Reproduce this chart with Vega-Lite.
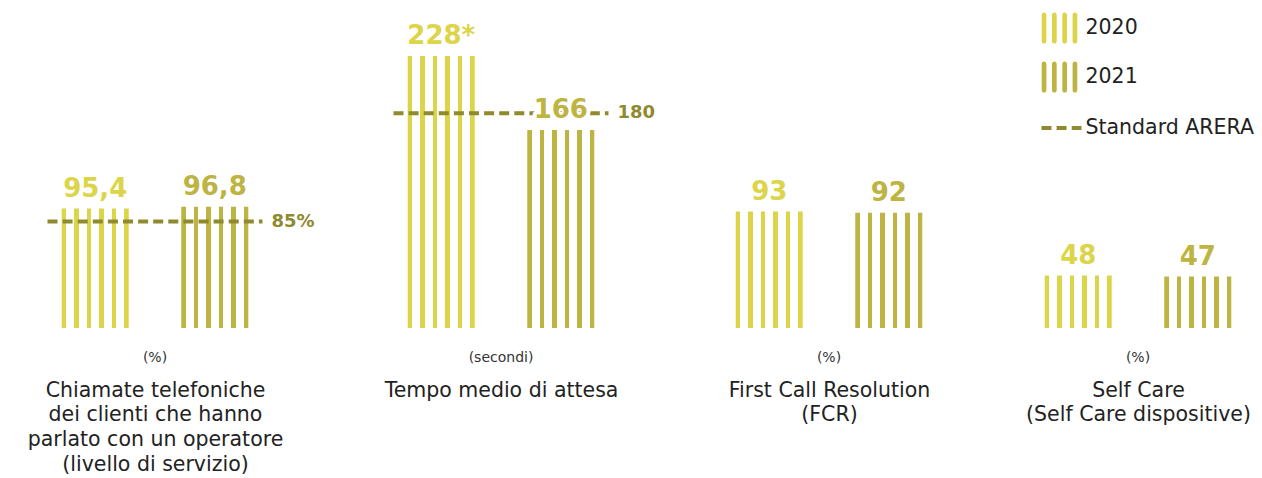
{
  "$schema": "https://vega.github.io/schema/vega-lite/v6.json",
  "padding": {"left": 22, "top": 0, "right": 0, "bottom": 0},
  "background": "white",
  "bounds": "flush",
  "spacing": 80,
  "datasets": {
    "bars": [
      {"group": "chiamate", "unit": "(%)", "year": "2020", "value": 95.4, "label": "95,4"},
      {"group": "chiamate", "unit": "(%)", "year": "2021", "value": 96.8, "label": "96,8"},
      {"group": "attesa", "unit": "(secondi)", "year": "2020", "value": 228, "label": "228*"},
      {"group": "attesa", "unit": "(secondi)", "year": "2021", "value": 166, "label": "166"},
      {"group": "fcr", "unit": "(%)", "year": "2020", "value": 93, "label": "93"},
      {"group": "fcr", "unit": "(%)", "year": "2021", "value": 92, "label": "92"},
      {"group": "selfcare", "unit": "(%)", "year": "2020", "value": 48, "label": "48"},
      {"group": "selfcare", "unit": "(%)", "year": "2021", "value": 47, "label": "47"}
    ],
    "standards": [
      {"group": "chiamate", "unit": "(%)", "standard": 85, "label": "85%"},
      {"group": "attesa", "unit": "(secondi)", "standard": 180, "label": "180"}
    ]
  },
  "resolve": {"scale": {"color": "shared", "strokeDash": "shared", "xOffset": "shared"}, "legend": {"color": "shared", "strokeDash": "shared"}},
  "hconcat": [
    {
      "width": 266,
      "height": 328,
      "layer": [
        {
          "data": {"name": "bars"},
          "transform": [{"filter": "datum.group === 'chiamate' && datum.year === '2020'"}],
          "mark": {"type": "bar", "fill": {"gradient": "linear", "x1": 0, "y1": 0, "x2": 1, "y2": 0, "stops": [
            {"offset": 0, "color": "#dcd54a"}, {"offset": 0.0672, "color": "#dcd54a"}, {"offset": 0.0672, "color": "#ffffff"}, {"offset": 0.1866, "color": "#ffffff"},
            {"offset": 0.1866, "color": "#dcd54a"}, {"offset": 0.2537, "color": "#dcd54a"}, {"offset": 0.2537, "color": "#ffffff"}, {"offset": 0.3731, "color": "#ffffff"},
            {"offset": 0.3731, "color": "#dcd54a"}, {"offset": 0.4403, "color": "#dcd54a"}, {"offset": 0.4403, "color": "#ffffff"}, {"offset": 0.5597, "color": "#ffffff"},
            {"offset": 0.5597, "color": "#dcd54a"}, {"offset": 0.6269, "color": "#dcd54a"}, {"offset": 0.6269, "color": "#ffffff"}, {"offset": 0.7463, "color": "#ffffff"},
            {"offset": 0.7463, "color": "#dcd54a"}, {"offset": 0.8134, "color": "#dcd54a"}, {"offset": 0.8134, "color": "#ffffff"}, {"offset": 0.9328, "color": "#ffffff"},
            {"offset": 0.9328, "color": "#dcd54a"}, {"offset": 1, "color": "#dcd54a"}]}},
          "encoding": {
            "x": {"field": "unit", "type": "nominal", "scale": {"paddingInner": 0, "paddingOuter": 0.1186}, "axis": {"title": ["Chiamate telefoniche", "dei clienti che hanno", "parlato con un operatore", "(livello di servizio)"]}},
            "xOffset": {"field": "year", "type": "nominal", "scale": {"domain": ["2020", "2021"], "paddingInner": 0.4393, "paddingOuter": 0.119}},
            "y": {"field": "value", "type": "quantitative", "scale": {"domain": [0, 262]}, "axis": null}
          }
        },
        {
          "data": {"name": "bars"},
          "transform": [{"filter": "datum.group === 'chiamate' && datum.year === '2021'"}],
          "mark": {"type": "bar", "fill": {"gradient": "linear", "x1": 0, "y1": 0, "x2": 1, "y2": 0, "stops": [
            {"offset": 0, "color": "#bdb442"}, {"offset": 0.0672, "color": "#bdb442"}, {"offset": 0.0672, "color": "#ffffff"}, {"offset": 0.1866, "color": "#ffffff"},
            {"offset": 0.1866, "color": "#bdb442"}, {"offset": 0.2537, "color": "#bdb442"}, {"offset": 0.2537, "color": "#ffffff"}, {"offset": 0.3731, "color": "#ffffff"},
            {"offset": 0.3731, "color": "#bdb442"}, {"offset": 0.4403, "color": "#bdb442"}, {"offset": 0.4403, "color": "#ffffff"}, {"offset": 0.5597, "color": "#ffffff"},
            {"offset": 0.5597, "color": "#bdb442"}, {"offset": 0.6269, "color": "#bdb442"}, {"offset": 0.6269, "color": "#ffffff"}, {"offset": 0.7463, "color": "#ffffff"},
            {"offset": 0.7463, "color": "#bdb442"}, {"offset": 0.8134, "color": "#bdb442"}, {"offset": 0.8134, "color": "#ffffff"}, {"offset": 0.9328, "color": "#ffffff"},
            {"offset": 0.9328, "color": "#bdb442"}, {"offset": 1, "color": "#bdb442"}]}},
          "encoding": {
            "x": {"field": "unit", "type": "nominal", "scale": {"paddingInner": 0, "paddingOuter": 0.1186}, "axis": {"title": ["Chiamate telefoniche", "dei clienti che hanno", "parlato con un operatore", "(livello di servizio)"]}},
            "xOffset": {"field": "year", "type": "nominal", "scale": {"domain": ["2020", "2021"], "paddingInner": 0.4393, "paddingOuter": 0.119}},
            "y": {"field": "value", "type": "quantitative", "scale": {"domain": [0, 262]}, "axis": null}
          }
        },
        {
          "data": {"name": "standards"},
          "transform": [{"filter": "datum.group === 'chiamate'"}],
          "mark": {"type": "rule", "strokeWidth": 4, "color": "#8f8a2e"},
          "encoding": {
            "x": {"field": "unit", "type": "nominal", "bandPosition": 0, "scale": {"paddingInner": 0, "paddingOuter": 0.1186}, "axis": {"title": ["Chiamate telefoniche", "dei clienti che hanno", "parlato con un operatore", "(livello di servizio)"]}},
            "x2": {"field": "unit", "bandPosition": 1},
            "y": {"field": "standard", "type": "quantitative", "scale": {"domain": [0, 262]}, "axis": null},
            "strokeDash": {
              "datum": "Standard ARERA", "type": "nominal",
              "scale": {"domain": ["Standard ARERA"], "range": [[10, 5.1]]},
              "legend": {"orient": "none", "legendX": 1017.5, "legendY": 106, "title": null, "padding": 0,
                "labelFontSize": 20.5, "labelFont": "DejaVu Sans", "labelColor": "#222222", "labelOffset": 2, "labelLimit": 300,
                "symbolSize": 1600, "symbolType": "stroke", "symbolStrokeWidth": 4, "symbolStrokeColor": "#8f8a2e"}
            }
          }
        },
        {
          "data": {"name": "standards"},
          "transform": [{"filter": "datum.group === 'chiamate'"}],
          "mark": {"type": "text", "align": "left", "baseline": "middle", "dx": 9, "fontSize": 18, "fontWeight": "bold", "color": "#8f8a2e"},
          "encoding": {
            "x": {"field": "unit", "type": "nominal", "bandPosition": 1, "scale": {"paddingInner": 0, "paddingOuter": 0.1186}, "axis": {"title": ["Chiamate telefoniche", "dei clienti che hanno", "parlato con un operatore", "(livello di servizio)"]}},
            "y": {"field": "standard", "type": "quantitative", "scale": {"domain": [0, 262]}, "axis": null},
            "text": {"field": "label"}
          }
        },
        {
          "data": {"name": "bars"},
          "transform": [{"filter": "datum.group === 'chiamate'"}],
          "encoding": {
            "x": {"field": "unit", "type": "nominal", "scale": {"paddingInner": 0, "paddingOuter": 0.1186}, "axis": {"title": ["Chiamate telefoniche", "dei clienti che hanno", "parlato con un operatore", "(livello di servizio)"]}},
            "xOffset": {"field": "year", "type": "nominal", "scale": {"domain": ["2020", "2021"], "paddingInner": 0.4393, "paddingOuter": 0.119}},
            "y": {"field": "value", "type": "quantitative", "scale": {"domain": [0, 262]}, "axis": null},
            "text": {"field": "label"}
          },
          "layer": [
            {"mark": {"type": "text", "baseline": "alphabetic", "dy": -12, "fontSize": 26, "fontWeight": "bold", "fill": "white", "stroke": "white", "strokeWidth": 8, "strokeJoin": "round"}},
            {
              "mark": {"type": "text", "baseline": "alphabetic", "dy": -12, "fontSize": 26, "fontWeight": "bold"},
              "encoding": {
                "color": {
                  "field": "year", "type": "nominal",
                  "scale": {"domain": ["2020", "2021"], "range": ["#dcd54a", "#bdb442"]},
                  "legend": {
                    "orient": "none", "legendX": 1019.5, "legendY": 10, "title": null, "padding": 0,
                    "labelFontSize": 20.5, "labelFont": "DejaVu Sans", "labelColor": "#222222", "labelOffset": 8, "labelLimit": 300,
                    "rowPadding": 15, "symbolSize": 1296, "symbolStrokeWidth": 0, "symbolOpacity": 1,
                    "symbolType": "M-0.988,-0.731A0.13,0.13 0 0 1 -0.728,-0.731L-0.728,0.731A0.13,0.13 0 0 1 -0.988,0.731ZM-0.416,-0.731A0.13,0.13 0 0 1 -0.156,-0.731L-0.156,0.731A0.13,0.13 0 0 1 -0.416,0.731ZM0.156,-0.731A0.13,0.13 0 0 1 0.416,-0.731L0.416,0.731A0.13,0.13 0 0 1 0.156,0.731ZM0.728,-0.731A0.13,0.13 0 0 1 0.988,-0.731L0.988,0.731A0.13,0.13 0 0 1 0.728,0.731Z"
                  }
                }
              }
            }
          ]
        }
      ]
    },
    {
      "width": 266,
      "height": 328,
      "layer": [
        {
          "data": {"name": "bars"},
          "transform": [{"filter": "datum.group === 'attesa' && datum.year === '2020'"}],
          "mark": {"type": "bar", "fill": {"gradient": "linear", "x1": 0, "y1": 0, "x2": 1, "y2": 0, "stops": [
            {"offset": 0, "color": "#dcd54a"}, {"offset": 0.0672, "color": "#dcd54a"}, {"offset": 0.0672, "color": "#ffffff"}, {"offset": 0.1866, "color": "#ffffff"},
            {"offset": 0.1866, "color": "#dcd54a"}, {"offset": 0.2537, "color": "#dcd54a"}, {"offset": 0.2537, "color": "#ffffff"}, {"offset": 0.3731, "color": "#ffffff"},
            {"offset": 0.3731, "color": "#dcd54a"}, {"offset": 0.4403, "color": "#dcd54a"}, {"offset": 0.4403, "color": "#ffffff"}, {"offset": 0.5597, "color": "#ffffff"},
            {"offset": 0.5597, "color": "#dcd54a"}, {"offset": 0.6269, "color": "#dcd54a"}, {"offset": 0.6269, "color": "#ffffff"}, {"offset": 0.7463, "color": "#ffffff"},
            {"offset": 0.7463, "color": "#dcd54a"}, {"offset": 0.8134, "color": "#dcd54a"}, {"offset": 0.8134, "color": "#ffffff"}, {"offset": 0.9328, "color": "#ffffff"},
            {"offset": 0.9328, "color": "#dcd54a"}, {"offset": 1, "color": "#dcd54a"}]}},
          "encoding": {
            "x": {"field": "unit", "type": "nominal", "scale": {"paddingInner": 0, "paddingOuter": 0.1186}, "axis": {"title": "Tempo medio di attesa"}},
            "xOffset": {"field": "year", "type": "nominal", "scale": {"domain": ["2020", "2021"], "paddingInner": 0.4393, "paddingOuter": 0.119}},
            "y": {"field": "value", "type": "quantitative", "scale": {"domain": [0, 275]}, "axis": null}
          }
        },
        {
          "data": {"name": "bars"},
          "transform": [{"filter": "datum.group === 'attesa' && datum.year === '2021'"}],
          "mark": {"type": "bar", "fill": {"gradient": "linear", "x1": 0, "y1": 0, "x2": 1, "y2": 0, "stops": [
            {"offset": 0, "color": "#bdb442"}, {"offset": 0.0672, "color": "#bdb442"}, {"offset": 0.0672, "color": "#ffffff"}, {"offset": 0.1866, "color": "#ffffff"},
            {"offset": 0.1866, "color": "#bdb442"}, {"offset": 0.2537, "color": "#bdb442"}, {"offset": 0.2537, "color": "#ffffff"}, {"offset": 0.3731, "color": "#ffffff"},
            {"offset": 0.3731, "color": "#bdb442"}, {"offset": 0.4403, "color": "#bdb442"}, {"offset": 0.4403, "color": "#ffffff"}, {"offset": 0.5597, "color": "#ffffff"},
            {"offset": 0.5597, "color": "#bdb442"}, {"offset": 0.6269, "color": "#bdb442"}, {"offset": 0.6269, "color": "#ffffff"}, {"offset": 0.7463, "color": "#ffffff"},
            {"offset": 0.7463, "color": "#bdb442"}, {"offset": 0.8134, "color": "#bdb442"}, {"offset": 0.8134, "color": "#ffffff"}, {"offset": 0.9328, "color": "#ffffff"},
            {"offset": 0.9328, "color": "#bdb442"}, {"offset": 1, "color": "#bdb442"}]}},
          "encoding": {
            "x": {"field": "unit", "type": "nominal", "scale": {"paddingInner": 0, "paddingOuter": 0.1186}, "axis": {"title": "Tempo medio di attesa"}},
            "xOffset": {"field": "year", "type": "nominal", "scale": {"domain": ["2020", "2021"], "paddingInner": 0.4393, "paddingOuter": 0.119}},
            "y": {"field": "value", "type": "quantitative", "scale": {"domain": [0, 275]}, "axis": null}
          }
        },
        {
          "data": {"name": "standards"},
          "transform": [{"filter": "datum.group === 'attesa'"}],
          "mark": {"type": "rule", "strokeWidth": 4, "color": "#8f8a2e"},
          "encoding": {
            "x": {"field": "unit", "type": "nominal", "bandPosition": 0, "scale": {"paddingInner": 0, "paddingOuter": 0.1186}, "axis": {"title": "Tempo medio di attesa"}},
            "x2": {"field": "unit", "bandPosition": 1},
            "y": {"field": "standard", "type": "quantitative", "scale": {"domain": [0, 275]}, "axis": null},
            "strokeDash": {"datum": "Standard ARERA", "type": "nominal", "scale": {"domain": ["Standard ARERA"], "range": [[10, 5.1]]}}
          }
        },
        {
          "data": {"name": "standards"},
          "transform": [{"filter": "datum.group === 'attesa'"}],
          "mark": {"type": "text", "align": "left", "baseline": "middle", "dx": 9, "fontSize": 18, "fontWeight": "bold", "color": "#8f8a2e"},
          "encoding": {
            "x": {"field": "unit", "type": "nominal", "bandPosition": 1, "scale": {"paddingInner": 0, "paddingOuter": 0.1186}, "axis": {"title": "Tempo medio di attesa"}},
            "y": {"field": "standard", "type": "quantitative", "scale": {"domain": [0, 275]}, "axis": null},
            "text": {"field": "label"}
          }
        },
        {
          "data": {"name": "bars"},
          "transform": [{"filter": "datum.group === 'attesa'"}],
          "encoding": {
            "x": {"field": "unit", "type": "nominal", "scale": {"paddingInner": 0, "paddingOuter": 0.1186}, "axis": {"title": "Tempo medio di attesa"}},
            "xOffset": {"field": "year", "type": "nominal", "scale": {"domain": ["2020", "2021"], "paddingInner": 0.4393, "paddingOuter": 0.119}},
            "y": {"field": "value", "type": "quantitative", "scale": {"domain": [0, 275]}, "axis": null},
            "text": {"field": "label"}
          },
          "layer": [
            {"mark": {"type": "text", "baseline": "alphabetic", "dy": -12, "fontSize": 26, "fontWeight": "bold", "fill": "white", "stroke": "white", "strokeWidth": 8, "strokeJoin": "round"}},
            {
              "mark": {"type": "text", "baseline": "alphabetic", "dy": -12, "fontSize": 26, "fontWeight": "bold"},
              "encoding": {
                "color": {"field": "year", "type": "nominal", "scale": {"domain": ["2020", "2021"], "range": ["#dcd54a", "#bdb442"]}}
              }
            }
          ]
        }
      ]
    },
    {
      "width": 230,
      "height": 328,
      "data": {"name": "bars"},
      "transform": [{"filter": "datum.group === 'fcr'"}],
      "encoding": {
        "x": {"field": "unit", "type": "nominal", "scale": {"paddingInner": 0, "paddingOuter": 0.0349}, "axis": {"title": ["First Call Resolution", "(FCR)"]}},
        "xOffset": {"field": "year", "type": "nominal", "scale": {"domain": ["2020", "2021"], "paddingInner": 0.4393, "paddingOuter": 0.119}},
        "y": {"field": "value", "type": "quantitative", "scale": {"domain": [0, 262]}, "axis": null},
        "text": {"field": "label"}
      },
      "layer": [
        {
          "transform": [{"filter": "datum.year === '2020'"}],
          "mark": {"type": "bar", "fill": {"gradient": "linear", "x1": 0, "y1": 0, "x2": 1, "y2": 0, "stops": [
            {"offset": 0, "color": "#dcd54a"}, {"offset": 0.0672, "color": "#dcd54a"}, {"offset": 0.0672, "color": "#ffffff"}, {"offset": 0.1866, "color": "#ffffff"},
            {"offset": 0.1866, "color": "#dcd54a"}, {"offset": 0.2537, "color": "#dcd54a"}, {"offset": 0.2537, "color": "#ffffff"}, {"offset": 0.3731, "color": "#ffffff"},
            {"offset": 0.3731, "color": "#dcd54a"}, {"offset": 0.4403, "color": "#dcd54a"}, {"offset": 0.4403, "color": "#ffffff"}, {"offset": 0.5597, "color": "#ffffff"},
            {"offset": 0.5597, "color": "#dcd54a"}, {"offset": 0.6269, "color": "#dcd54a"}, {"offset": 0.6269, "color": "#ffffff"}, {"offset": 0.7463, "color": "#ffffff"},
            {"offset": 0.7463, "color": "#dcd54a"}, {"offset": 0.8134, "color": "#dcd54a"}, {"offset": 0.8134, "color": "#ffffff"}, {"offset": 0.9328, "color": "#ffffff"},
            {"offset": 0.9328, "color": "#dcd54a"}, {"offset": 1, "color": "#dcd54a"}]}}
        },
        {
          "transform": [{"filter": "datum.year === '2021'"}],
          "mark": {"type": "bar", "fill": {"gradient": "linear", "x1": 0, "y1": 0, "x2": 1, "y2": 0, "stops": [
            {"offset": 0, "color": "#bdb442"}, {"offset": 0.0672, "color": "#bdb442"}, {"offset": 0.0672, "color": "#ffffff"}, {"offset": 0.1866, "color": "#ffffff"},
            {"offset": 0.1866, "color": "#bdb442"}, {"offset": 0.2537, "color": "#bdb442"}, {"offset": 0.2537, "color": "#ffffff"}, {"offset": 0.3731, "color": "#ffffff"},
            {"offset": 0.3731, "color": "#bdb442"}, {"offset": 0.4403, "color": "#bdb442"}, {"offset": 0.4403, "color": "#ffffff"}, {"offset": 0.5597, "color": "#ffffff"},
            {"offset": 0.5597, "color": "#bdb442"}, {"offset": 0.6269, "color": "#bdb442"}, {"offset": 0.6269, "color": "#ffffff"}, {"offset": 0.7463, "color": "#ffffff"},
            {"offset": 0.7463, "color": "#bdb442"}, {"offset": 0.8134, "color": "#bdb442"}, {"offset": 0.8134, "color": "#ffffff"}, {"offset": 0.9328, "color": "#ffffff"},
            {"offset": 0.9328, "color": "#bdb442"}, {"offset": 1, "color": "#bdb442"}]}}
        },
        {
          "mark": {"type": "text", "baseline": "alphabetic", "dy": -12, "fontSize": 26, "fontWeight": "bold"},
          "encoding": {
            "color": {"field": "year", "type": "nominal", "scale": {"domain": ["2020", "2021"], "range": ["#dcd54a", "#bdb442"]}}
          }
        }
      ]
    },
    {
      "width": 228,
      "height": 328,
      "data": {"name": "bars"},
      "transform": [{"filter": "datum.group === 'selfcare'"}],
      "encoding": {
        "x": {"field": "unit", "type": "nominal", "scale": {"paddingInner": 0, "paddingOuter": 0.0302}, "axis": {"title": ["Self Care", "(Self Care dispositive)"]}},
        "xOffset": {"field": "year", "type": "nominal", "scale": {"domain": ["2020", "2021"], "paddingInner": 0.4393, "paddingOuter": 0.119}},
        "y": {"field": "value", "type": "quantitative", "scale": {"domain": [0, 300]}, "axis": null},
        "text": {"field": "label"}
      },
      "layer": [
        {
          "transform": [{"filter": "datum.year === '2020'"}],
          "mark": {"type": "bar", "fill": {"gradient": "linear", "x1": 0, "y1": 0, "x2": 1, "y2": 0, "stops": [
            {"offset": 0, "color": "#dcd54a"}, {"offset": 0.0672, "color": "#dcd54a"}, {"offset": 0.0672, "color": "#ffffff"}, {"offset": 0.1866, "color": "#ffffff"},
            {"offset": 0.1866, "color": "#dcd54a"}, {"offset": 0.2537, "color": "#dcd54a"}, {"offset": 0.2537, "color": "#ffffff"}, {"offset": 0.3731, "color": "#ffffff"},
            {"offset": 0.3731, "color": "#dcd54a"}, {"offset": 0.4403, "color": "#dcd54a"}, {"offset": 0.4403, "color": "#ffffff"}, {"offset": 0.5597, "color": "#ffffff"},
            {"offset": 0.5597, "color": "#dcd54a"}, {"offset": 0.6269, "color": "#dcd54a"}, {"offset": 0.6269, "color": "#ffffff"}, {"offset": 0.7463, "color": "#ffffff"},
            {"offset": 0.7463, "color": "#dcd54a"}, {"offset": 0.8134, "color": "#dcd54a"}, {"offset": 0.8134, "color": "#ffffff"}, {"offset": 0.9328, "color": "#ffffff"},
            {"offset": 0.9328, "color": "#dcd54a"}, {"offset": 1, "color": "#dcd54a"}]}}
        },
        {
          "transform": [{"filter": "datum.year === '2021'"}],
          "mark": {"type": "bar", "fill": {"gradient": "linear", "x1": 0, "y1": 0, "x2": 1, "y2": 0, "stops": [
            {"offset": 0, "color": "#bdb442"}, {"offset": 0.0672, "color": "#bdb442"}, {"offset": 0.0672, "color": "#ffffff"}, {"offset": 0.1866, "color": "#ffffff"},
            {"offset": 0.1866, "color": "#bdb442"}, {"offset": 0.2537, "color": "#bdb442"}, {"offset": 0.2537, "color": "#ffffff"}, {"offset": 0.3731, "color": "#ffffff"},
            {"offset": 0.3731, "color": "#bdb442"}, {"offset": 0.4403, "color": "#bdb442"}, {"offset": 0.4403, "color": "#ffffff"}, {"offset": 0.5597, "color": "#ffffff"},
            {"offset": 0.5597, "color": "#bdb442"}, {"offset": 0.6269, "color": "#bdb442"}, {"offset": 0.6269, "color": "#ffffff"}, {"offset": 0.7463, "color": "#ffffff"},
            {"offset": 0.7463, "color": "#bdb442"}, {"offset": 0.8134, "color": "#bdb442"}, {"offset": 0.8134, "color": "#ffffff"}, {"offset": 0.9328, "color": "#ffffff"},
            {"offset": 0.9328, "color": "#bdb442"}, {"offset": 1, "color": "#bdb442"}]}}
        },
        {
          "mark": {"type": "text", "baseline": "alphabetic", "dy": -12, "fontSize": 26, "fontWeight": "bold"},
          "encoding": {
            "color": {"field": "year", "type": "nominal", "scale": {"domain": ["2020", "2021"], "range": ["#dcd54a", "#bdb442"]}}
          }
        }
      ]
    }
  ],
  "config": {
    "view": {"stroke": null},
    "font": "DejaVu Sans",
    "axis": {
      "domain": false, "ticks": false, "grid": false, "labelAngle": 0,
      "labelFont": "DejaVu Sans", "labelFontSize": 14, "labelColor": "#333333", "labelPadding": 22,
      "titleFont": "DejaVu Sans", "titleFontSize": 20.5, "titleFontWeight": "normal", "titleColor": "#222222",
      "titlePadding": 16, "titleLineHeight": 24.7
    }
  }
}
